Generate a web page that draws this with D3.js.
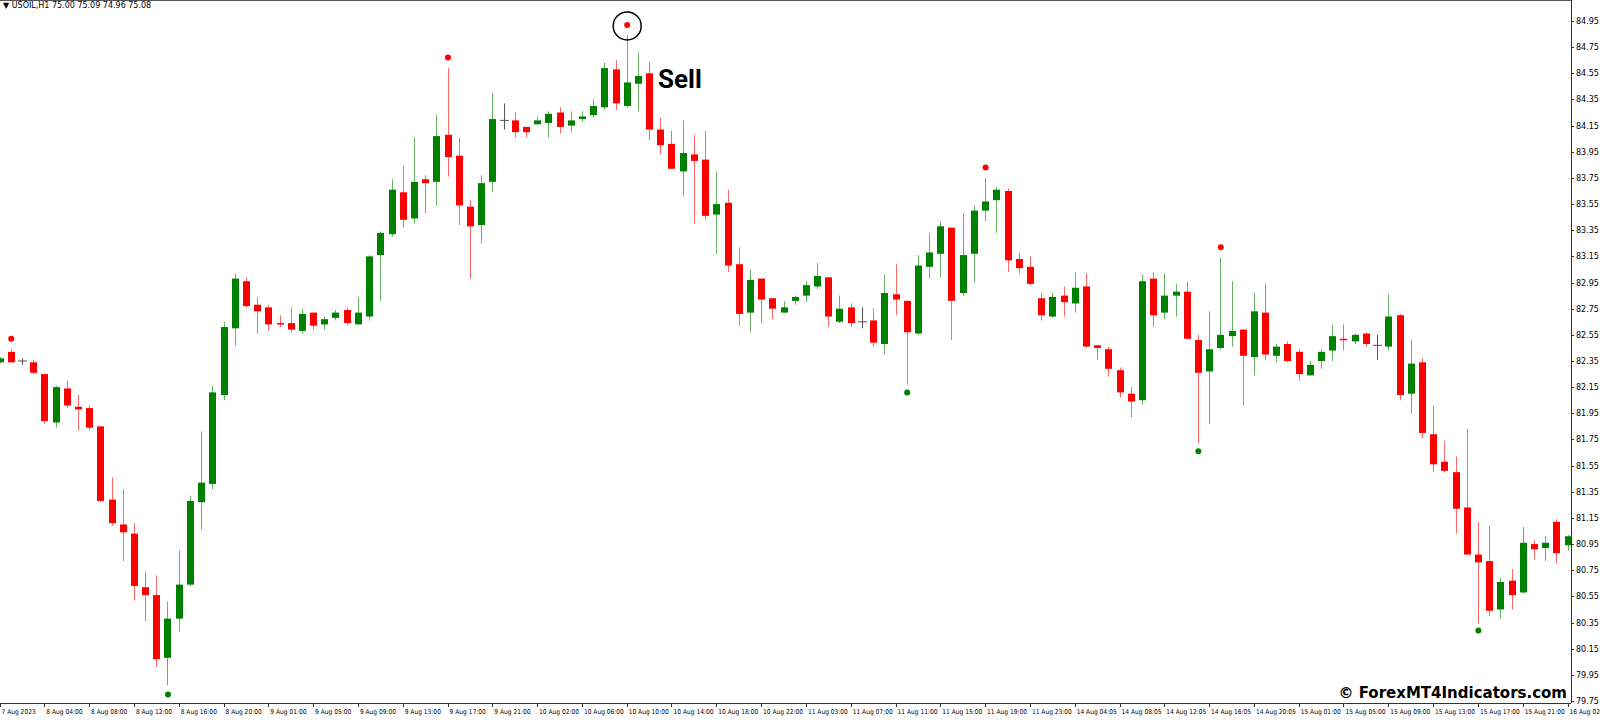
<!DOCTYPE html>
<html>
<head>
<meta charset="utf-8">
<script src="https://cdn.jsdelivr.net/npm/d3@7"></script>
<style>
  body { margin: 0; background: #fff; }
  svg { display: block; }
</style>
</head>
<body>
<svg id="chart" width="1600" height="720"></svg>
<script>
// OHLC, one row per H1 bar
const opens  = [82.34,82.42,82.35,82.34,82.25,81.88,82.14,82.00,81.99,81.85,81.29,81.10,81.03,80.62,80.56,80.08,80.38,80.64,81.27,81.41,82.09,82.60,82.96,82.78,82.76,82.64,82.64,82.58,82.72,82.63,82.68,82.74,82.63,82.69,83.16,83.32,83.64,83.44,83.74,83.72,84.08,83.92,83.53,83.39,83.72,84.19,84.19,84.14,84.16,84.17,84.25,84.15,84.20,84.23,84.29,84.58,84.30,84.47,84.55,84.12,84.01,83.80,83.93,83.89,83.47,83.56,83.09,82.72,82.98,82.83,82.72,82.81,82.85,82.92,82.99,82.65,82.76,82.65,82.66,82.48,82.86,82.81,82.56,83.07,83.17,83.37,82.87,83.17,83.50,83.58,83.65,83.13,83.07,82.83,82.69,82.85,82.79,82.92,82.47,82.44,82.28,82.10,82.05,82.98,82.72,82.85,82.88,82.51,82.27,82.45,82.54,82.59,82.38,82.72,82.39,82.48,82.42,82.24,82.35,82.43,82.52,82.50,82.56,82.47,82.46,82.70,82.10,82.34,81.79,81.58,81.50,81.23,80.87,80.82,80.45,80.67,80.58,80.95,80.92,81.12,80.94];
const highs  = [82.38,82.44,82.37,82.36,82.25,82.16,82.20,82.09,82.01,81.85,81.46,81.37,81.11,80.74,80.71,80.51,80.90,81.32,81.81,82.16,82.65,83.02,82.99,82.84,82.78,82.70,82.76,82.75,82.72,82.69,82.74,82.76,82.84,83.16,83.34,83.74,83.84,84.06,83.77,84.23,84.59,84.06,83.58,83.77,84.40,84.32,84.25,84.14,84.22,84.26,84.29,84.26,84.26,84.35,84.63,84.65,84.84,84.71,84.64,84.21,84.11,84.19,84.08,84.11,83.80,83.66,83.22,83.05,82.98,82.83,82.81,82.85,82.96,83.10,82.99,82.85,82.79,82.76,82.75,83.01,83.09,82.81,83.16,83.33,83.42,83.37,83.48,83.54,83.75,83.68,83.67,83.18,83.15,82.87,82.87,82.92,83.03,83.02,82.47,82.46,82.30,82.15,83.01,83.03,83.02,82.94,82.96,82.55,82.73,83.14,82.96,82.59,82.87,82.94,82.48,82.50,82.44,82.35,82.44,82.63,82.63,82.56,82.57,82.55,82.86,82.71,82.51,82.37,82.01,81.74,81.62,81.83,81.12,81.09,80.69,80.76,81.08,80.98,81.01,81.14,81.02];
const lows   = [82.33,82.34,82.32,82.25,81.87,81.84,81.99,81.82,81.82,81.27,81.09,80.82,80.52,80.36,80.01,79.87,80.28,80.63,81.06,81.37,82.05,82.47,82.76,82.56,82.58,82.61,82.57,82.56,82.59,82.59,82.66,82.62,82.63,82.66,82.81,83.30,83.37,83.40,83.48,83.54,83.76,83.39,82.98,83.25,83.64,84.12,84.06,84.06,84.16,84.06,84.09,84.10,84.18,84.21,84.27,84.27,84.29,84.26,84.04,83.93,83.82,83.61,83.40,83.43,83.17,83.03,82.62,82.57,82.64,82.67,82.72,82.78,82.80,82.90,82.61,82.64,82.61,82.60,82.46,82.40,82.70,82.17,82.55,82.98,82.99,82.51,82.85,82.95,83.42,83.33,83.03,83.02,82.93,82.66,82.68,82.69,82.72,82.45,82.36,82.23,82.07,81.92,82.02,82.61,82.67,82.69,82.52,81.72,81.87,82.44,82.46,82.01,82.24,82.36,82.34,82.34,82.20,82.24,82.29,82.35,82.43,82.48,82.46,82.36,82.43,82.05,81.95,81.76,81.50,81.50,81.03,80.87,80.34,80.40,80.38,80.45,80.57,80.83,80.82,80.80,80.90];
const closes = [82.37,82.34,82.35,82.26,81.89,82.15,82.01,81.98,81.84,81.28,81.11,81.04,80.63,80.56,80.07,80.38,80.64,81.28,81.42,82.11,82.61,82.98,82.77,82.73,82.63,82.63,82.59,82.71,82.62,82.67,82.72,82.64,82.72,83.15,83.33,83.66,83.43,83.72,83.71,84.07,83.91,83.54,83.38,83.71,84.20,84.19,84.10,84.10,84.19,84.24,84.14,84.19,84.22,84.30,84.59,84.32,84.48,84.53,84.12,84.00,83.82,83.94,83.88,83.46,83.55,83.08,82.71,82.97,82.82,82.75,82.76,82.84,82.93,83.00,82.69,82.75,82.64,82.65,82.49,82.87,82.82,82.57,83.08,83.18,83.38,82.81,83.16,83.50,83.57,83.66,83.12,83.06,82.94,82.70,82.84,82.80,82.91,82.46,82.45,82.29,82.11,82.04,82.96,82.70,82.85,82.88,82.52,82.26,82.44,82.55,82.58,82.39,82.73,82.40,82.46,82.35,82.25,82.32,82.42,82.54,82.51,82.55,82.48,82.47,82.69,82.09,82.33,81.80,81.56,81.51,81.22,80.87,80.81,80.44,80.66,80.56,80.96,80.91,80.96,80.88,81.01];

// indicator dots
const sellBars   = [1, 40, 56, 88, 109];
const sellLevels = [82.52, 84.67, 84.92, 83.83, 83.22];
const buyBars    = [15, 81, 107, 132];
const buyLevels  = [79.80, 82.11, 81.66, 80.29];

const timeLabels = ["7 Aug 2023","8 Aug 04:00","8 Aug 08:00","8 Aug 12:00","8 Aug 16:00","8 Aug 20:00",
  "9 Aug 01:00","9 Aug 05:00","9 Aug 09:00","9 Aug 13:00","9 Aug 17:00","9 Aug 21:00",
  "10 Aug 02:00","10 Aug 06:00","10 Aug 10:00","10 Aug 14:00","10 Aug 18:00","10 Aug 22:00",
  "11 Aug 03:00","11 Aug 07:00","11 Aug 11:00","11 Aug 15:00","11 Aug 19:00","11 Aug 23:00",
  "14 Aug 04:05","14 Aug 08:05","14 Aug 12:05","14 Aug 16:05","14 Aug 20:05",
  "15 Aug 01:00","15 Aug 05:00","15 Aug 09:00","15 Aug 13:00","15 Aug 17:00","15 Aug 21:00",
  "16 Aug 02:00"];
const priceTicks = d3.range(27).map(i => +(79.75 + i * 0.2).toFixed(2));

const svg = d3.select("#chart");
const right = 1571, bottom = 703;

const x = d3.scaleLinear().domain([0, 140]).range([-0.5, 1567.5]);
const y = d3.scaleLinear().domain([79.75, 84.95]).range([701, 21]);

const RED = "#ff0000", GREEN = "#008000", GRAY = "#555";

svg.append("clipPath").attr("id", "plot")
  .append("rect").attr("x", 0).attr("y", 0).attr("width", right).attr("height", bottom);

const g = svg.append("g").attr("clip-path", "url(#plot)");

const bars = d3.range(opens.length).map(i => ({
  i, o: opens[i], h: highs[i], l: lows[i], c: closes[i]
}));
const colorOf = d => d.c > d.o ? GREEN : d.c < d.o ? RED : GRAY;

g.selectAll("line.wick").data(bars).join("line")
  .attr("x1", d => Math.round(x(d.i)) + 0.5).attr("x2", d => Math.round(x(d.i)) + 0.5)
  .attr("y1", d => y(d.h)).attr("y2", d => y(d.l))
  .attr("stroke", colorOf).attr("stroke-opacity", d => d.c === d.o ? 1 : 0.6).attr("stroke-width", 1);

g.selectAll("rect.body").data(bars.filter(d => d.c !== d.o)).join("rect")
  .attr("x", d => Math.round(x(d.i)) - 3).attr("width", 7)
  .attr("y", d => y(Math.max(d.o, d.c)))
  .attr("height", d => Math.max(1.5, Math.abs(y(d.o) - y(d.c))))
  .attr("fill", colorOf);

g.selectAll("line.doji").data(bars.filter(d => d.c === d.o)).join("line")
  .attr("x1", d => Math.round(x(d.i)) - 4).attr("x2", d => Math.round(x(d.i)) + 5)
  .attr("y1", d => y(d.o)).attr("y2", d => y(d.o))
  .attr("stroke", GRAY).attr("stroke-width", 1);

g.selectAll("circle.sell").data(sellBars).join("circle")
  .attr("cx", (d, k) => x(d) + 0.5).attr("cy", (d, k) => y(sellLevels[k])).attr("r", 3).attr("fill", RED);
g.selectAll("circle.buy").data(buyBars).join("circle")
  .attr("cx", (d, k) => x(d) + 0.5).attr("cy", (d, k) => y(buyLevels[k])).attr("r", 3).attr("fill", GREEN);

// ring around the top sell signal + label
g.append("circle").attr("cx", x(56) + 0.5).attr("cy", y(sellLevels[2]) + 1).attr("r", 14)
  .attr("fill", "none").attr("stroke", "#000").attr("stroke-width", 1.5);
svg.append("text").attr("x", 658).attr("y", 88)
  .style("font-family", "Roboto, 'DejaVu Sans', sans-serif").style("font-weight", "bold")
  .style("font-size", "26px").attr("fill", "#000").text("Sell");

// frame
svg.append("line").attr("x1", 0).attr("x2", right).attr("y1", 0.5).attr("y2", 0.5).attr("stroke", "#555");
svg.append("line").attr("x1", right + 0.5).attr("x2", right + 0.5).attr("y1", 0).attr("y2", bottom).attr("stroke", "#333");
svg.append("line").attr("x1", 0).attr("x2", right).attr("y1", bottom + 0.5).attr("y2", bottom + 0.5).attr("stroke", "#333");

// price axis
const pa = svg.append("g").style("font-family", "Tahoma, 'DejaVu Sans', sans-serif").style("font-size", "8px");
pa.selectAll("line").data(priceTicks).join("line")
  .attr("x1", right).attr("x2", right + 3).attr("y1", d => Math.round(y(d)) + 0.5).attr("y2", d => Math.round(y(d)) + 0.5)
  .attr("stroke", "#333");
pa.selectAll("text").data(priceTicks).join("text")
  .attr("x", right + 5).attr("y", d => y(d) + 3).attr("fill", "#000").text(d => d.toFixed(2));

// time axis
const ta = svg.append("g").style("font-family", "'DejaVu Sans Condensed', 'Liberation Sans Narrow', sans-serif").style("font-size", "6.6px");
ta.selectAll("line").data(timeLabels).join("line")
  .attr("x1", (d, k) => Math.round(x(k * 4)) + 0.5).attr("x2", (d, k) => Math.round(x(k * 4)) + 0.5)
  .attr("y1", bottom).attr("y2", bottom + 4).attr("stroke", "#333");
ta.selectAll("text").data(timeLabels).join("text")
  .attr("x", (d, k) => x(k * 4) + 2).attr("y", 714).attr("fill", "#000").text(d => d);

// header + watermark
svg.append("text").attr("x", 3).attr("y", 8)
  .style("font-family", "Tahoma, 'DejaVu Sans', sans-serif").style("font-size", "8px").attr("fill", "#000")
  .text("\u25BC USOIL,H1  75.00 75.09 74.96 75.08");
svg.append("text").attr("x", 1567).attr("y", 698).attr("text-anchor", "end")
  .style("font-family", "'DejaVu Sans', sans-serif").style("font-weight", "bold")
  .style("font-size", "15px").attr("fill", "#000").text("\u00A9 ForexMT4Indicators.com");
</script>
</body>
</html>
